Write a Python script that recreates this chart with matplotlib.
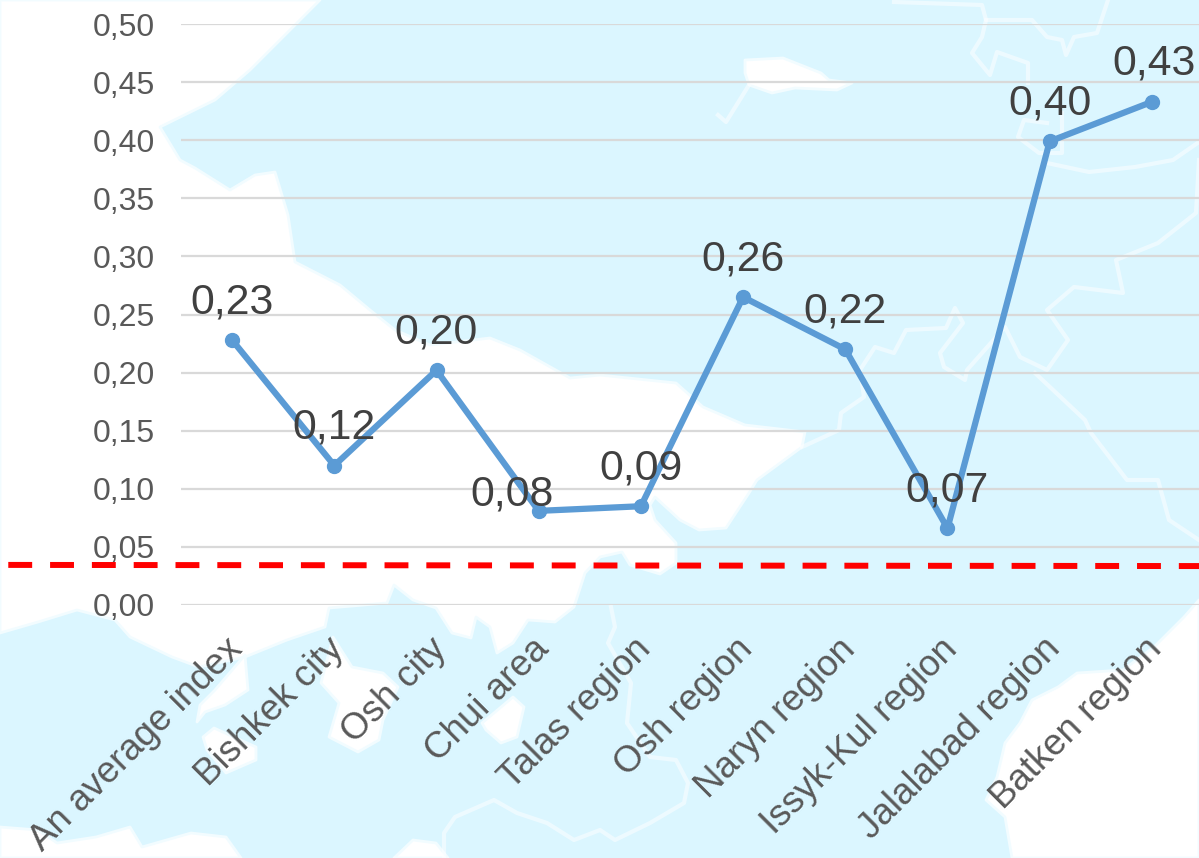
import matplotlib
matplotlib.use('Agg')
import matplotlib.pyplot as plt
from matplotlib.patches import Polygon
from matplotlib.transforms import ScaledTranslation

plt.rcParams['font.family'] = ['Liberation Sans', 'DejaVu Sans']

regions = ['An average index', 'Bishkek city', 'Osh city', 'Chui area', 'Talas region',
           'Osh region', 'Naryn region', 'Issyk-Kul region', 'Jalalabad region', 'Batken region']
values = [0.228, 0.12, 0.202, 0.081, 0.085, 0.265, 0.22, 0.066, 0.399, 0.433]
labels = ['0,23', '0,12', '0,20', '0,08', '0,09', '0,26', '0,22', '0,07', '0,40', '0,43']
label_dx = [0, 0, 0, -27, 0, 0, 0, 0, 0, 2]
label_dy = [41, 41, 41, 19, 41, 41, 41, 41, 41, 41]
threshold = [0.0345, 0.0335]
yticks = [i * 0.05 for i in range(11)]

# background map, in pixels of the picture
sea = '#DBF6FF'
white_main = [(0, 0), (320, 0), (290, 30), (250, 70), (215, 100), (160, 127), (180, 160), (195, 168),
              (230, 190), (255, 175), (275, 172), (288, 215), (295, 262), (340, 285), (370, 310),
              (395, 330), (430, 345), (490, 338), (520, 350), (570, 378), (600, 375), (676, 383),
              (703, 407), (745, 425), (805, 432), (802, 447), (757, 480), (749, 493), (726, 528),
              (699, 530), (680, 520), (655, 497), (650, 505), (655, 520), (676, 543), (676, 563),
              (660, 574), (630, 565), (622, 552), (600, 557), (585, 573), (574, 607), (555, 622),
              (528, 620), (513, 643), (497, 653), (490, 627), (476, 617), (471, 638), (452, 633),
              (436, 608), (413, 600), (394, 585), (387, 603), (329, 608), (325, 627), (287, 640),
              (245, 657), (199, 667), (172, 657), (130, 637), (115, 620), (77, 610), (38, 622), (0, 633)]
white_se = [(1199, 600), (1184, 617), (1154, 647), (1123, 670), (1077, 673), (1058, 687), (1032, 700),
            (1020, 723), (1005, 743), (997, 777), (986, 800), (1005, 817), (1012, 858), (1199, 858)]
white_sw = [(0, 827), (38, 830), (57, 843), (96, 837), (130, 827), (142, 847), (191, 833), (226, 837),
            (241, 858), (0, 858)]
white_s = [(394, 858), (413, 840), (436, 843), (448, 858)]
spit = [(245, 655), (248, 690), (225, 705), (205, 712), (197, 722), (200, 705), (215, 690)]
isle_a = [(203, 737), (214, 728), (256, 747), (256, 760), (226, 773), (207, 750)]
isle_b = [(333, 637), (352, 667), (383, 673), (398, 687), (383, 720), (379, 740), (358, 752), (329, 737),
          (339, 703), (321, 683)]
isle_c = [(482, 723), (513, 697), (524, 707), (517, 737), (501, 743), (486, 730)]
lake = [(745, 60), (783, 58), (821, 73), (829, 80), (852, 83), (837, 90), (795, 88), (772, 93), (749, 85),
        (745, 73)]
rivers = [
    [(749, 85), (726, 122), (718, 115)],
    [(894, 2), (982, 5), (986, 20), (1032, 20), (1047, 37), (1062, 40), (1066, 55), (1074, 37), (1097, 33),
     (1108, 0)],
    [(986, 20), (982, 37), (972, 53), (990, 75), (997, 52), (1028, 63), (1028, 83)],
    [(1062, 113), (1062, 153), (1039, 153), (1018, 137), (1024, 120), (1047, 123)],
    [(1047, 163), (1089, 172), (1135, 167), (1173, 160), (1199, 142)],
    [(1199, 160), (1196, 213), (1158, 243), (1116, 260), (1123, 293), (1074, 287), (1047, 310), (1068, 340),
     (1047, 370), (1020, 357), (1005, 327), (967, 370), (965, 380), (944, 367), (940, 353), (963, 323),
     (955, 308), (946, 328), (906, 330), (894, 353), (875, 347), (860, 370), (864, 397), (841, 413),
     (839, 430), (802, 447)],
    [(1035, 373), (1085, 420), (1091, 433), (1127, 480), (1158, 480), (1169, 520), (1199, 540)],
    [(444, 858), (444, 833), (455, 817), (478, 807), (494, 800), (517, 813), (547, 823), (574, 840), (600, 830),
     (615, 840), (650, 823), (684, 803), (688, 783), (676, 760), (650, 757), (627, 723), (631, 683), (608, 643),
     (615, 627), (611, 607)],
]

fig = plt.figure(figsize=(11.99, 8.58), dpi=100)
fig.patch.set_facecolor(sea)

bg = fig.add_axes([0, 0, 1, 1], zorder=0)
bg.set_xlim(0, 1199)
bg.set_ylim(858, 0)
bg.axis('off')
for shape in [white_main, white_se, white_sw, white_s, spit, isle_a, isle_b, isle_c, lake]:
    bg.add_patch(Polygon(shape, closed=True, facecolor='white', edgecolor='#F2FCFF', lw=2, joinstyle='round'))
for r in rivers:
    bg.plot([p[0] for p in r], [p[1] for p in r], color='white', alpha=0.5, lw=3, solid_joinstyle='round')

ax = fig.add_axes([181 / 1199, (858 - 605) / 858, (1203 - 181) / 1199, (605 - 24) / 858], zorder=1)
ax.patch.set_alpha(0)
ax.set_xlim(-0.5, 9.5)
ax.set_ylim(0, 0.5)
for s in ax.spines.values():
    s.set_visible(False)
ax.set_yticks(yticks)
ax.set_yticklabels([f'{t:.2f}'.replace('.', ',') for t in yticks], fontsize=23, color='#595959')
ax.yaxis.grid(True, color='#D9D9D9', lw=1.6)
ax.set_axisbelow(True)
ax.tick_params(axis='both', length=0)
ax.tick_params(axis='y', pad=18.5)
ax.set_xticks(range(len(regions)))
ax.set_xticklabels(regions, rotation=45, ha='right', rotation_mode='anchor', fontsize=26.4, color='#595959')
ax.tick_params(axis='x', pad=19)
shift = ScaledTranslation(-5.5 / 72, 0, fig.dpi_scale_trans)
for t in ax.get_xticklabels():
    t.set_transform(t.get_transform() + shift)

ax.plot(range(len(values)), values, color='#5B9BD5', lw=4.5, marker='o', ms=10, clip_on=False, zorder=3)
for i, (v, t) in enumerate(zip(values, labels)):
    ax.annotate(t, (i, v), xytext=(label_dx[i] * 0.72, (label_dy[i] - 3) * 0.72), textcoords='offset points',
                ha='center', va='center', fontsize=30.8, color='#404040', zorder=4)

# red dashed threshold
ax.plot([-2.19, 9.6], threshold, color='#FF0000', lw=4.3, ls=(0, (4, 3)), dash_capstyle='butt',
        clip_on=False, zorder=5)

fig.savefig('out.png', dpi=100)
